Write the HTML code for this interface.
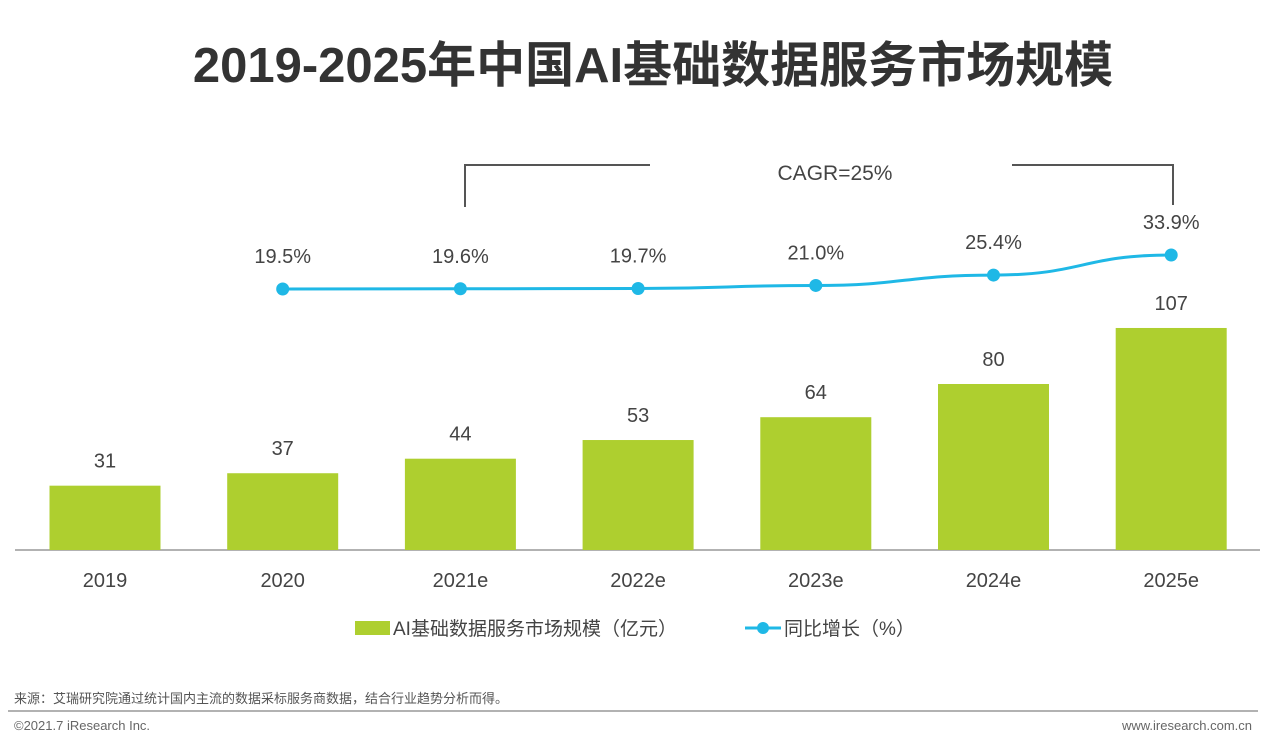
<!DOCTYPE html>
<html><head><meta charset="utf-8"><style>
body{margin:0;width:1265px;height:744px;background:#fff;overflow:hidden;font-family:"Liberation Sans","Noto Sans CJK SC",sans-serif;}
svg text{font-family:"Liberation Sans","Noto Sans CJK SC",sans-serif;}
</style></head><body>
<svg id="c" width="1265" height="744">
<text x="653" y="82" text-anchor="middle" font-size="49" font-weight="bold" fill="#333">2019-2025年中国AI基础数据服务市场规模</text>
<line x1="15" y1="550" x2="1260" y2="550" stroke="#999" stroke-width="1.5"/>
<polyline points="465,207 465,165 650,165" fill="none" stroke="#555" stroke-width="2"/>
<polyline points="1012,165 1173,165 1173,205" fill="none" stroke="#555" stroke-width="2"/>
<text x="835" y="180" text-anchor="middle" font-size="21" fill="#444">CAGR=25%</text>
<g id="bars"></g><g id="line"></g>
<rect x="355" y="621" width="35" height="14" fill="#aecf2f"/>
<text x="393" y="635" font-size="19" fill="#444">AI基础数据服务市场规模（亿元）</text>
<line x1="745" y1="628" x2="781" y2="628" stroke="#1fb8e6" stroke-width="3"/>
<circle cx="763" cy="628" r="6" fill="#1fb8e6"/>
<text x="784" y="635" font-size="19" fill="#444">同比增长（%）</text>
<text x="14" y="703" font-size="13" fill="#555">来源：艾瑞研究院通过统计国内主流的数据采标服务商数据，结合行业趋势分析而得。</text>
<line x1="8" y1="711" x2="1258" y2="711" stroke="#999" stroke-width="1.5"/>
<text x="14" y="730" font-size="13" fill="#666">©2021.7 iResearch Inc.</text>
<text x="1252" y="730" text-anchor="end" font-size="13" fill="#666">www.iresearch.com.cn</text>
</svg>
<script>
const categories=["2019","2020","2021e","2022e","2023e","2024e","2025e"];
const marketSize=[31,37,44,53,64,80,107];
const growthCats=["2020","2021e","2022e","2023e","2024e","2025e"];
const growth=[19.5,19.6,19.7,21.0,25.4,33.9];
const NS="http://www.w3.org/2000/svg";
const xPos=i=>105+i*177.7;
const yBar=v=>550-v*2.075;
const yLine=v=>289-(v-19.5)*2.36;
function mk(t,a,p){const e=document.createElementNS(NS,t);for(const k in a)e.setAttribute(k,a[k]);p.appendChild(e);return e;}
const bars=document.getElementById('bars'),svg=document.getElementById('c'),line=document.getElementById('line');
categories.forEach((c,i)=>{
 const x=xPos(i),y=yBar(marketSize[i]);
 const r=mk('rect',{x:x-55.5,y:y,width:111,height:550-y,fill:'#aecf2f'},bars);
 
 
 const t=mk('text',{x:x,y:y-18,'text-anchor':'middle','font-size':20,fill:'#444'},bars);t.textContent=marketSize[i];
 
 
 const l=mk('text',{x:x,y:587,'text-anchor':'middle','font-size':20,fill:'#444'},bars);l.textContent=c;
 
 
});
const pts=growth.map((v,i)=>[xPos(categories.indexOf(growthCats[i])),yLine(v)]);
let d='M'+pts[0][0]+','+pts[0][1];
for(let i=1;i<pts.length;i++){const [x0,y0]=pts[i-1],[x1,y1]=pts[i];const cx=(x0+x1)/2;d+=` C${cx},${y0} ${cx},${y1} ${x1},${y1}`;}
const p=mk('path',{d:d,fill:'none',stroke:'#1fb8e6','stroke-width':3},line);


pts.forEach((q,i)=>{
 const c=mk('circle',{cx:q[0],cy:q[1],r:6.5,fill:'#1fb8e6'},line);
 
 
 const t=mk('text',{x:q[0],y:q[1]-26,'text-anchor':'middle','font-size':20,fill:'#444'},line);t.textContent=growth[i].toFixed(1)+'%';
 
 
});
</script>
</body></html>
